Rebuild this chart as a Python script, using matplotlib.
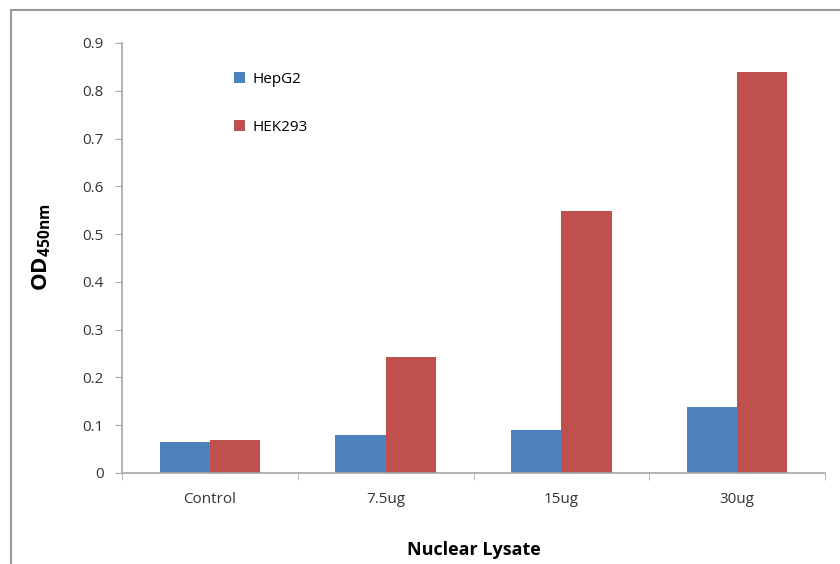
import numpy as np
import matplotlib.pyplot as plt
from matplotlib.patches import Rectangle

categories = ["Control", "7.5ug", "15ug", "30ug"]
hepg2 = [0.065, 0.080, 0.090, 0.138]
hek293 = [0.069, 0.243, 0.549, 0.839]
yticks = [0, 0.1, 0.2, 0.3, 0.4, 0.5, 0.6, 0.7, 0.8, 0.9]

blue = "#4f81bd"
red = "#c0504d"
grey = "#a6a6a6"

plt.rcParams['font.family'] = ['Open Sans', 'DejaVu Sans']
plt.rcParams['mathtext.fontset'] = 'custom'
plt.rcParams['mathtext.bf'] = 'Open Sans:bold'
plt.rcParams['mathtext.rm'] = 'Open Sans'

fig = plt.figure(figsize=(8.4, 5.64), dpi=100)

# outer frame (cropped at right/bottom)
fig.patches.append(Rectangle((11 / 840, -0.05), 1.2, 0.982 + 0.05,
                             transform=fig.transFigure, fill=False,
                             edgecolor="#9a9a9a", linewidth=1.5))

ax = fig.add_axes([122 / 840, 91 / 564, 703 / 840, 430 / 564])

x = np.arange(len(categories))
w = 1 / 3.5
ax.bar(x - w / 2, hepg2, width=w, color=blue, label="HepG2")
ax.bar(x + w / 2, hek293, width=w, color=red, label="HEK293")

ax.set_xlim(-0.5, len(categories) - 0.5)
ax.set_ylim(0, 0.9)
ax.set_yticks(yticks)
ax.set_yticklabels([f"{t:g}" for t in yticks], fontsize=11, color="#333333")
ax.set_xticks(x)
ax.set_xticklabels(categories, fontsize=11, color="#333333")
ax.set_xticks(np.arange(-0.5, len(categories)), minor=True)
ax.tick_params(axis="x", which="major", length=0, pad=14)
ax.tick_params(axis="x", which="minor", length=5, color=grey, direction="out")
ax.tick_params(axis="y", length=5, color=grey, direction="out", pad=8)

for s in ["top", "right"]:
    ax.spines[s].set_visible(False)
for s in ["left", "bottom"]:
    ax.spines[s].set_color(grey)
    ax.spines[s].set_linewidth(1.2)

ax.set_xlabel("Nuclear Lysate", fontsize=13, fontweight="bold", labelpad=24)
ax.set_ylabel("$\\mathbf{OD}_{\\mathbf{450nm}}$", fontsize=16)
ax.yaxis.set_label_coords(-0.098, 0.525)

ax.legend(loc="upper left", bbox_to_anchor=(0.14, 0.965), frameon=False,
          fontsize=11, handlelength=0.7, handleheight=0.7,
          labelspacing=2.15, handletextpad=0.5)

fig.savefig("out.png", dpi=100)
